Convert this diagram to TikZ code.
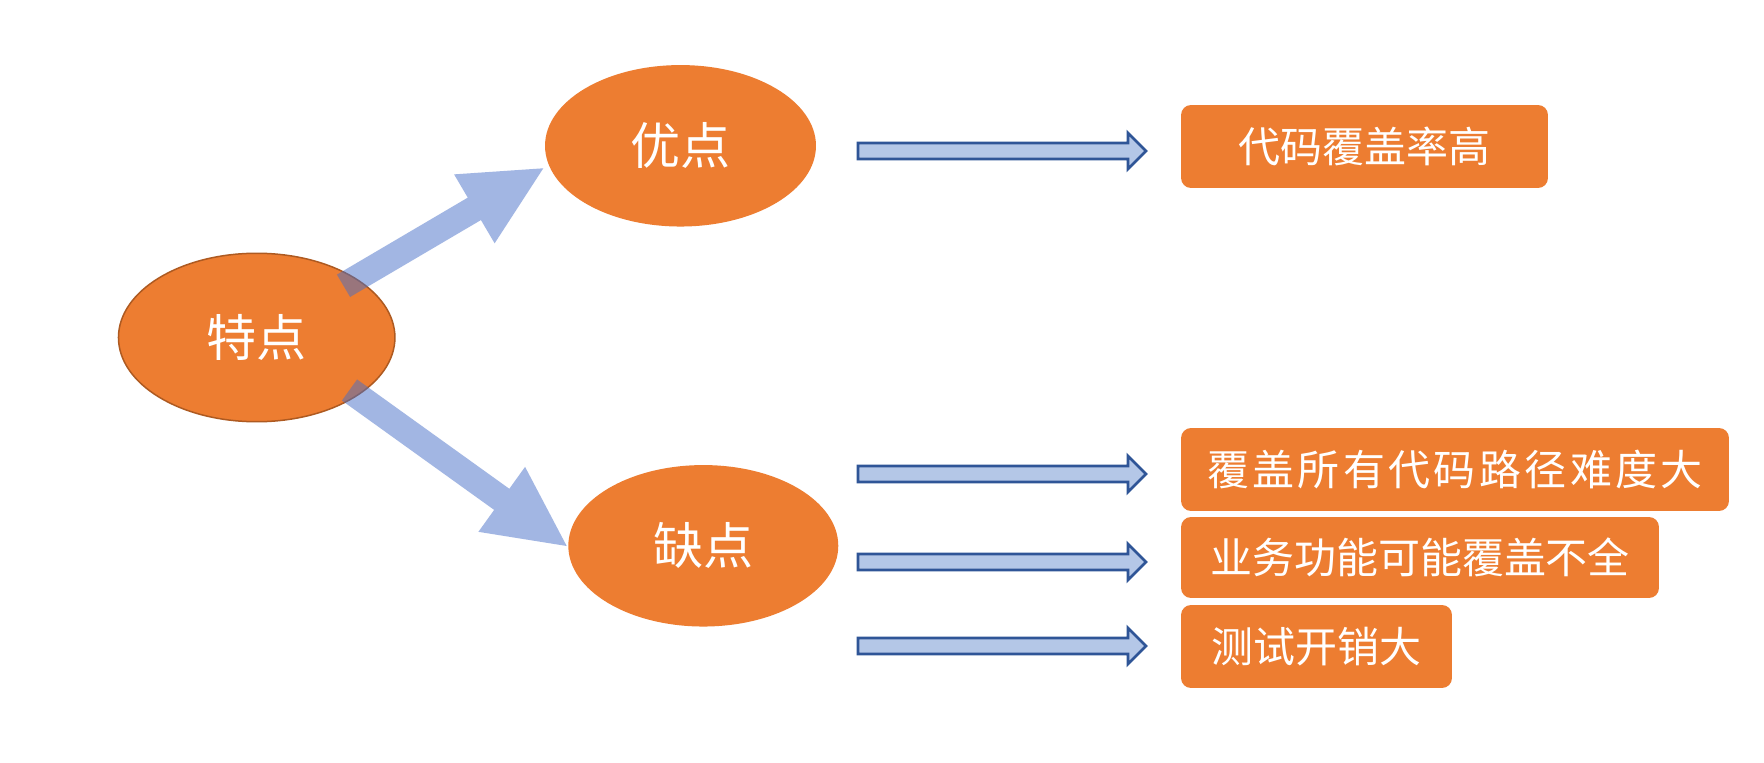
\documentclass[tikz,border=0pt]{standalone}
\usepackage{fontspec}
\setmainfont{Noto Sans CJK SC}
\newfontfamily\widecjk[LetterSpace=8]{Noto Sans CJK SC}
\usetikzlibrary{calc,shapes.geometric}
\definecolor{pptorange}{HTML}{ED7D31}
\definecolor{ovalrim}{HTML}{AE5A21}
\definecolor{fatblue}{RGB}{70,110,200}
\definecolor{slimfill}{HTML}{B4C7E7}
\definecolor{slimrim}{HTML}{2F5597}
\def\fatarrow(#1)(#2){%
	\coordinate (fatbase) at ($(#2)!1.6cm!(#1)$);
	\fill[fatarrow] ($(#1)!0.26cm!90:(#2)$) -- ($(fatbase)!0.26cm!90:(#2)$) -- ($(fatbase)!0.8cm!90:(#2)$) -- (#2)
		-- ($(fatbase)!0.8cm!-90:(#2)$) -- ($(fatbase)!0.26cm!-90:(#2)$) -- ($(#1)!0.26cm!-90:(#2)$) -- cycle;}
\def\slimarrow(#1)(#2){%
	\filldraw[slimarrow] ($(#1)+(0,-8)$) -- ($(#2)+(-18,-8)$) -- ($(#2)+(-18,-18)$) -- (#2)
		-- ($(#2)+(-18,18)$) -- ($(#2)+(-18,8)$) -- ($(#1)+(0,8)$) -- cycle;}

\begin{document}
\begin{tikzpicture}[x=0.02cm, y=-0.02cm,
	bubble/.style={ellipse, fill=pptorange, text=white, inner sep=0pt, font=\fontsize{28.5pt}{30pt}\selectfont},
	notebox/.style={rectangle, rounded corners=0.2cm, fill=pptorange, text=white, inner sep=0pt, minimum height=1.66cm, font=\fontsize{23.9pt}{26pt}\selectfont},
	fatarrow/.style={fill=fatblue, fill opacity=0.5},
	slimarrow/.style={fill=slimfill, draw=slimrim, line width=0.055cm, line join=miter}]
		%%%%% START %%%%%
		
		\fill[white] (0, 0) rectangle (1764, 763);
		\useasboundingbox (0, 0) rectangle (1764, 763);
		
		\node[bubble, draw=ovalrim, line width=0.03cm, minimum width=5.53cm, minimum height=3.37cm] (te) at (256.7, 337.5) {特点};
		\node[bubble, minimum width=5.42cm, minimum height=3.23cm] (you) at (680.5, 145.8) {优点};
		\node[bubble, minimum width=5.40cm, minimum height=3.23cm] (que) at (703.3, 545.8) {缺点};
		
		\node[notebox, minimum width=7.34cm] (gain) at (1364.5, 146.5) {代码覆盖率高};
		\node[notebox, minimum width=10.96cm, font=\widecjk\fontsize{23.9pt}{26pt}\selectfont] (lossa) at (1455, 469.5) {覆盖所有代码路径难度大};
		\node[notebox, minimum width=9.56cm, minimum height=1.62cm] (lossb) at (1420, 557.5) {业务功能可能覆盖不全};
		\node[notebox, minimum width=5.42cm] (lossc) at (1316.5, 646.5) {测试开销大};
		
		\coordinate (upfrom) at (343.5, 285.8);
		\coordinate (upto) at (543.3, 168.3);
		\coordinate (downfrom) at (349.5, 390);
		\coordinate (downto) at (566.7, 546);
		\fatarrow(upfrom)(upto)
		\fatarrow(downfrom)(downto)
		
		\coordinate (gainfrom) at (858, 151);
		\coordinate (gainto) at (1146, 151);
		\coordinate (lossafrom) at (858, 474);
		\coordinate (lossato) at (1146, 474);
		\coordinate (lossbfrom) at (858, 562);
		\coordinate (lossbto) at (1146, 562);
		\coordinate (losscfrom) at (858, 646);
		\coordinate (lossceto) at (1146, 646);
		\slimarrow(gainfrom)(gainto)
		\slimarrow(lossafrom)(lossato)
		\slimarrow(lossbfrom)(lossbto)
		\slimarrow(losscfrom)(lossceto)
		
		%%%%% END %%%%%
	\end{tikzpicture}
\end{document}
